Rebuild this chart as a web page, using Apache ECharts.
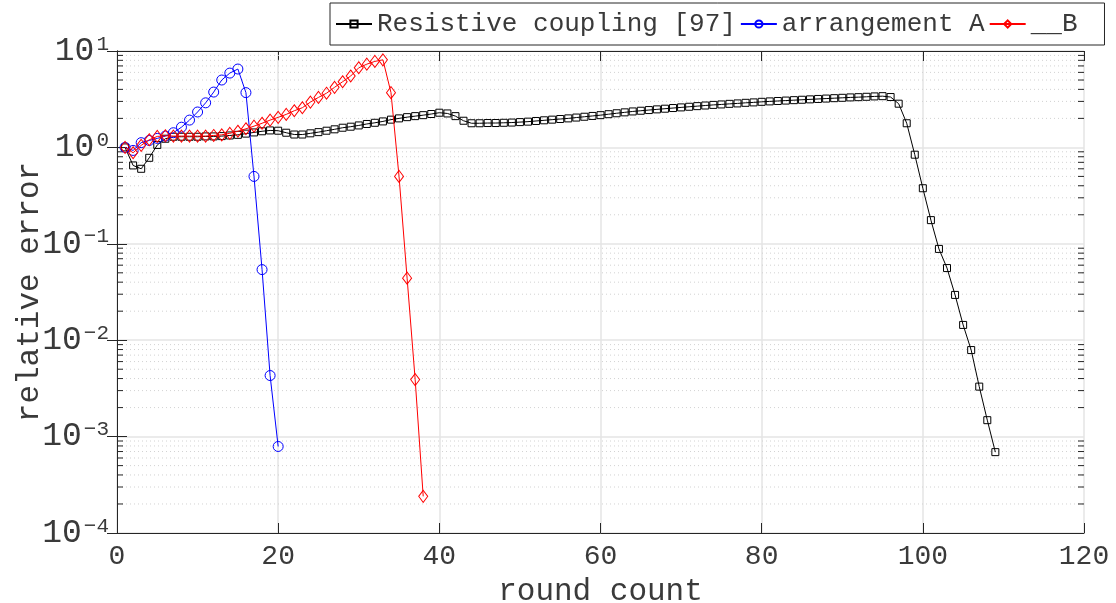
<!DOCTYPE html>
<html>
<head>
<meta charset="utf-8">
<script src="https://cdn.jsdelivr.net/npm/echarts@6/dist/echarts.min.js"></script>
<style>
  html, body { margin: 0; padding: 0; background: #fff; }
  #chart { width: 1116px; height: 603px; }
</style>
</head>
<body>
<div id="chart"></div>
<script>
// Relative error per round (rounds start at 1)
const resistiveCoupling = [
  1.0, 0.65, 0.60, 0.78, 1.06, 1.23, 1.29, 1.29, 1.29, 1.29,
  1.30, 1.30, 1.31, 1.33, 1.35, 1.39, 1.43, 1.47, 1.50, 1.49,
  1.42, 1.36, 1.36, 1.40, 1.44, 1.49, 1.54, 1.60, 1.64, 1.69,
  1.75, 1.80, 1.86, 1.94, 2.00, 2.06, 2.11, 2.16, 2.22, 2.29,
  2.25, 2.11, 1.89, 1.78, 1.78, 1.79, 1.79, 1.80, 1.81, 1.83,
  1.85, 1.88, 1.91, 1.94, 1.97, 2.00, 2.04, 2.08, 2.12, 2.16,
  2.21, 2.26, 2.31, 2.36, 2.40, 2.44, 2.48, 2.52, 2.56, 2.60,
  2.64, 2.68, 2.72, 2.76, 2.79, 2.83, 2.86, 2.90, 2.93, 2.97,
  3.00, 3.03, 3.06, 3.09, 3.12, 3.15, 3.18, 3.21, 3.24, 3.27,
  3.30, 3.32, 3.35, 3.38, 3.40, 3.33, 2.84, 1.78, 0.84, 0.377,
  0.176, 0.0885, 0.056, 0.0295, 0.0144, 0.0079, 0.0033, 0.00148, 0.00069
];
const arrangementA = [
  1.0, 0.93, 1.12, 1.18, 1.24, 1.31, 1.42, 1.62, 1.92, 2.33,
  2.9, 3.75, 5.0, 5.9, 6.5, 3.7, 0.50, 0.054, 0.0043, 0.00079
];
const arrangementB = [
  1.0, 0.88, 1.05, 1.20, 1.30, 1.32, 1.31, 1.31, 1.31, 1.31,
  1.31, 1.33, 1.35, 1.40, 1.47, 1.56, 1.66, 1.78, 1.92, 2.05,
  2.20, 2.40, 2.58, 2.95, 3.30, 3.65, 4.20, 4.80, 5.50, 6.70,
  7.30, 7.80, 8.10, 3.70, 0.50, 0.044, 0.0039, 0.00024
];
const seriesNames = ['Resistive coupling [97]', 'arrangement A', '__B'];
const xTicks = [0, 20, 40, 60, 80, 100, 120];
const yDecades = [1e-4, 1e-3, 1e-2, 1e-1, 1e0, 1e1];

const FONT = '"Liberation Mono", "DejaVu Sans Mono", monospace';
const INK = '#262626';
const TEXT = '#3a3a3a';

// pair each value with its round number (1, 2, 3, ...)
const withRounds = arr => arr.map((v, i) => [i + 1, v]);

// minor log positions 2..9 × 10^k between the decades
const minorLevels = [];
for (let k = 0; k < yDecades.length - 1; k++) {
  for (let m = 2; m <= 9; m++) minorLevels.push([0, m * yDecades[k]]);
}

const chart = echarts.init(document.getElementById('chart'), null, { renderer: 'canvas' });

const supFormatter = v => {
  const e = Math.round(Math.log10(v));
  return '{b|10}{s|' + (e < 0 ? '\u2212' + (-e) : e) + '}';
};

chart.setOption({
  backgroundColor: '#fff',
  animation: false,
  textStyle: { fontFamily: FONT },
  grid: { left: 117, top: 51, right: 32, bottom: 70, containLabel: false, outerBoundsMode: 'none' },
  legend: {
    data: seriesNames,
    left: 330,
    top: 3,
    orient: 'horizontal',
    padding: [8, 27, 8, 5],
    itemGap: 4,
    itemWidth: 36,
    itemHeight: 9,
    borderColor: INK,
    borderWidth: 1,
    backgroundColor: '#fff',
    textStyle: { fontFamily: FONT, fontSize: 26, color: TEXT }
  },
  xAxis: [
    {
      type: 'value', min: 0, max: 120, interval: 20,
      name: 'round count', nameLocation: 'middle', nameGap: 40,
      nameTextStyle: { fontFamily: FONT, fontSize: 31, color: TEXT },
      axisLine: { show: true, lineStyle: { color: INK, width: 1 } },
      axisTick: { show: true, inside: true, length: 10, lineStyle: { color: INK } },
      axisLabel: { fontFamily: FONT, fontSize: 28, color: TEXT, margin: 10 },
      splitLine: { show: true, lineStyle: { color: '#e4e4e4', width: 1.5 } }
    },
    {
      type: 'value', min: 0, max: 120, interval: 20, position: 'top',
      axisLine: { show: true, lineStyle: { color: INK, width: 1 } },
      axisTick: { show: true, inside: true, length: 10, lineStyle: { color: INK } },
      axisLabel: { show: false },
      splitLine: { show: false }
    }
  ],
  yAxis: [
    {
      type: 'log', logBase: 10, min: 1e-4, max: 10,
      name: 'relative error', nameLocation: 'middle', nameGap: 72,
      nameMoveOverlap: false,
      nameTextStyle: { fontFamily: FONT, fontSize: 31, color: TEXT },
      axisLine: { show: true, lineStyle: { color: INK, width: 1 } },
      axisTick: { show: true, inside: true, length: 10, lineStyle: { color: INK } },
      axisLabel: {
        margin: 8,
        formatter: supFormatter,
        rich: {
          b: { fontFamily: FONT, fontSize: 33, color: TEXT },
          s: { fontFamily: FONT, fontSize: 21, color: TEXT, verticalAlign: 'top', padding: [0, 0, 14, 2] }
        }
      },
      splitLine: { show: true, lineStyle: { color: '#e4e4e4', width: 1.5 } }
    },
    {
      type: 'log', logBase: 10, min: 1e-4, max: 10, position: 'right',
      axisLine: { show: true, lineStyle: { color: INK, width: 1 } },
      axisTick: { show: true, inside: true, length: 10, lineStyle: { color: INK } },
      axisLabel: { show: false },
      splitLine: { show: false }
    }
  ],
  series: [
    {
      // dotted minor grid and minor ticks at 2..9 × 10^k
      type: 'custom',
      name: 'minor',
      silent: true,
      z: 1,
      xAxisIndex: 0, yAxisIndex: 0,
      data: minorLevels,
      renderItem: (params, api) => {
        const v = api.value(1);
        const l = api.coord([0, v]);
        const r = api.coord([120, v]);
        return {
          type: 'group',
          children: [
            { type: 'line', shape: { x1: l[0] + 1, y1: l[1], x2: r[0] - 1, y2: r[1] },
              style: { stroke: '#d2d2d2', lineWidth: 1, lineDash: [1, 3] } },
            { type: 'line', shape: { x1: l[0], y1: l[1], x2: l[0] + 6, y2: l[1] },
              style: { stroke: INK, lineWidth: 1 } },
            { type: 'line', shape: { x1: r[0] - 6, y1: r[1], x2: r[0], y2: r[1] },
              style: { stroke: INK, lineWidth: 1 } }
          ]
        };
      }
    },
    {
      name: seriesNames[0], type: 'line', z: 3,
      data: withRounds(resistiveCoupling),
      symbol: 'rect', symbolSize: 7,
      lineStyle: { color: '#000', width: 1 },
      itemStyle: { color: 'rgba(0,0,0,0)', borderColor: '#000', borderWidth: 1 }
    },
    {
      name: seriesNames[1], type: 'line', z: 4,
      data: withRounds(arrangementA),
      symbol: 'circle', symbolSize: 10,
      lineStyle: { color: '#0000ff', width: 1 },
      itemStyle: { color: 'rgba(0,0,0,0)', borderColor: '#0000ff', borderWidth: 1 }
    },
    {
      name: seriesNames[2], type: 'line', z: 5,
      data: withRounds(arrangementB),
      symbol: 'diamond', symbolSize: [9, 12],
      lineStyle: { color: '#ff0000', width: 1 },
      itemStyle: { color: 'rgba(0,0,0,0)', borderColor: '#ff0000', borderWidth: 1 }
    }
  ]
});
</script>
</body>
</html>
